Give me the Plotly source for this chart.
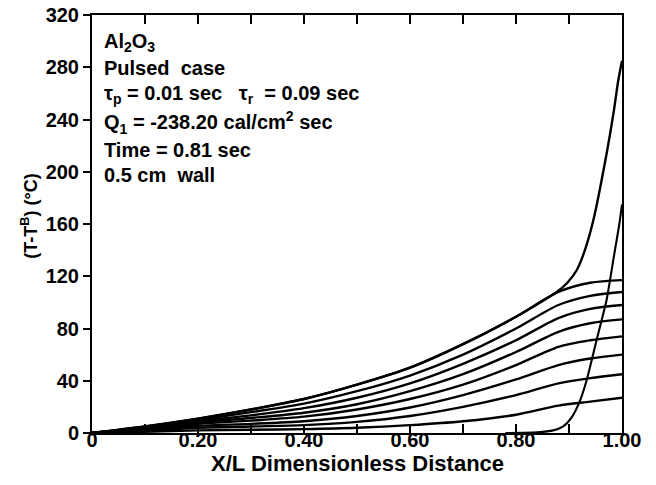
import plotly.graph_objects as go

# ---- data ----
x_grid = [0, 0.1, 0.2, 0.3, 0.4, 0.5, 0.6, 0.7, 0.8, 0.88, 0.94, 1.0]
curve_1 = [0, 5, 11, 18, 26, 37, 50, 68, 89, 108, 115, 117]
curve_2 = [0, 4.5, 10, 16, 22.5, 32, 44, 60, 80, 98, 105, 108]
curve_3 = [0, 4, 9, 13.5, 19, 27, 38, 53, 71, 88, 95, 98]
curve_4 = [0, 3.5, 8, 11.5, 15.5, 22, 32, 45, 62, 77.5, 84, 87]
curve_5 = [0, 3, 7, 9.5, 12.5, 18, 26, 37, 52, 66, 71, 74]
curve_6 = [0, 2.5, 5.5, 7, 9, 13, 19.5, 29, 41, 52, 57, 60]
curve_7 = [0, 2, 4, 5, 6, 8.5, 13, 20, 29, 38, 42, 45]
curve_8 = [0, 1, 2, 2.5, 3, 4, 6, 9, 14, 21, 24, 27]
family = [curve_1, curve_2, curve_3, curve_4, curve_5, curve_6, curve_7, curve_8]

# end-of-pulse envelope (follows the top curve, then rises steeply at the wall)
x_envelope = [0, 0.1, 0.2, 0.3, 0.4, 0.5, 0.6, 0.7, 0.8, 0.877, 0.896, 0.915,
              0.93, 0.946, 0.971, 0.984, 0.993, 1.0]
y_envelope = [0, 5, 11, 18, 26, 37, 50, 68, 89, 108, 114.6, 125,
              140, 163, 214, 245, 270, 285]

# steep inner curve near the heated wall
x_inner = [0.78, 0.84, 0.87, 0.889, 0.905, 0.921, 0.933, 0.952, 0.971, 0.985, 0.995, 1.0]
y_inner = [0, 0.5, 2, 5, 12, 25, 40, 71, 102, 136, 160, 175]

x_tickvals = [0, 0.2, 0.4, 0.6, 0.8, 1.0]
x_ticktext = ["0", "0.20", "0.40", "0.60", "0.80", "1.00"]
x_minor_ticks = [0.1, 0.3, 0.5, 0.7, 0.9]
y_tickvals = [0, 40, 80, 120, 160, 200, 240, 280, 320]
y_ticktext = ["0", "40", "80", "120", "160", "200", "240", "280", "320"]
y_right_ticks = [40, 80, 120, 160, 200, 240, 280]

info_lines = [
    "Al<sub>2</sub>O<sub>3</sub>",
    "Pulsed  case",
    "τ<sub>p</sub> = 0.01 sec   τ<sub>r</sub>  = 0.09 sec",
    "Q<sub>1</sub> = -238.20 cal/cm<sup>2</sup> sec",
    "Time = 0.81 sec",
    "0.5 cm  wall",
]
info_y = [299, 279.5, 259, 238, 216.7, 197.5]

FONT = "Liberation Sans"

fig = go.Figure()
for ys in family:
    fig.add_trace(go.Scatter(x=x_grid, y=ys, mode="lines",
                             line=dict(color="black", width=2.4, shape="spline", smoothing=0.8),
                             showlegend=False, hoverinfo="skip"))
fig.add_trace(go.Scatter(x=x_envelope, y=y_envelope, mode="lines",
                         line=dict(color="black", width=2.4, shape="spline", smoothing=0.6),
                         showlegend=False, hoverinfo="skip"))
fig.add_trace(go.Scatter(x=x_inner, y=y_inner, mode="lines",
                         line=dict(color="black", width=2.1, shape="spline", smoothing=0.6),
                         showlegend=False, hoverinfo="skip"))

for txt, yv in zip(info_lines, info_y):
    fig.add_annotation(x=0.018, y=yv, xref="x", yref="y", text=txt, showarrow=False,
                       xanchor="left", yanchor="middle",
                       font=dict(family=FONT, size=20, color="black", weight="bold"))

# axis titles as annotations (precise placement)
fig.add_annotation(x=-0.117, y=0.52, xref="paper", yref="paper",
                   text="(T-T<sup>B</sup>) (°C)", showarrow=False, textangle=-90,
                   xanchor="center", yanchor="middle",
                   font=dict(family=FONT, size=18, color="black", weight="bold"))
fig.add_annotation(x=0.5, y=-0.072, xref="paper", yref="paper",
                   text="X/L Dimensionless Distance", showarrow=False,
                   xanchor="center", yanchor="middle",
                   font=dict(family=FONT, size=22, color="black", weight="bold"))

tickfont = dict(family=FONT, size=20, color="black", weight="bold")
fig.update_layout(
    width=656, height=485,
    margin=dict(l=84, r=42, t=7, b=60),
    paper_bgcolor="white", plot_bgcolor="white",
    xaxis=dict(range=[0, 1], showgrid=False, zeroline=False, automargin=False,
               showline=True, linecolor="black", linewidth=2, mirror="ticks",
               ticks="inside", ticklen=9, tickwidth=1.5, tickcolor="black",
               tickvals=x_tickvals, ticktext=x_ticktext, tickfont=tickfont,
               ticklabelstandoff=-12, ticklabeloverflow="allow",
               minor=dict(tickvals=x_minor_ticks, ticks="inside", ticklen=9,
                          tickwidth=1.5, tickcolor="black", showgrid=False)),
    yaxis=dict(range=[0, 320], showgrid=False, zeroline=False, automargin=False,
               showline=True, linecolor="black", linewidth=2, mirror=True,
               ticks="outside", ticklen=7, tickwidth=1.5, tickcolor="black",
               tickvals=y_tickvals, ticktext=y_ticktext, tickfont=tickfont,
               ticklabeloverflow="allow"),
    yaxis2=dict(range=[0, 320], overlaying="y", side="right", anchor="x",
                showgrid=False, zeroline=False, automargin=False,
                showline=True, linecolor="black", linewidth=2,
                ticks="inside", ticklen=8, tickwidth=1.5, tickcolor="black",
                tickvals=y_right_ticks, showticklabels=False),
)

fig.write_html("out.html")
